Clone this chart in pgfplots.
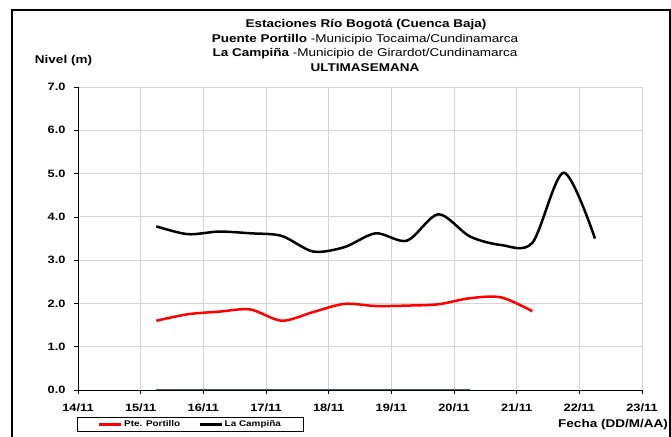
\documentclass[border=0pt]{standalone}
\usepackage{fontspec}
\setmainfont{Liberation Sans}[FakeStretch=1.2]
\usepackage{pgfplots}
\usepackage{pgfplotstable}
\pgfplotsset{compat=1.18}
\definecolor{tealz}{RGB}{50,100,100}
\definecolor{gridc}{RGB}{212,212,212}
\pgfplotstableread{
x y
15.25 3.78
15.75 3.60
16.25 3.66
16.75 3.62
17.25 3.56
17.75 3.20
18.25 3.30
18.75 3.62
19.25 3.45
19.75 4.06
20.25 3.55
20.75 3.35
21.25 3.40
21.75 5.02
22.25 3.50
}\campina
\pgfplotstableread{
x y
15.25 1.60
15.75 1.75
16.25 1.81
16.75 1.86
17.25 1.60
17.75 1.80
18.25 1.99
18.75 1.94
19.25 1.95
19.75 1.98
20.25 2.12
20.75 2.14
21.25 1.82
}\portillo
\pgfplotstableread{
x y
15.25 0
15.75 0
16.25 0
16.75 0
17.25 0
17.75 0
18.25 0
18.75 0
19.25 0
19.75 0
20.25 0
}\zero
\begin{document}
\begin{tikzpicture}
\useasboundingbox (0bp,0bp) rectangle (671bp,437bp);
\clip (0bp,0bp) rectangle (671bp,437bp);
\fill[white] (0bp,0bp) rectangle (671bp,437bp);
\begin{axis}[
  at={(78bp,47bp)}, anchor=south west,
  scale only axis, width=564bp, height=303bp,
  xmin=14, xmax=23, ymin=0, ymax=7,
  xtick={14,...,23},
  xticklabels={14/11,15/11,16/11,17/11,18/11,19/11,20/11,21/11,22/11,23/11},
  ytick={0,...,7},
  axis x line*=bottom, axis y line*=left,
  axis line style={black, line width=0.8bp, -},
  grid=major, grid style={gridc, line width=0.9bp},
  tick align=outside, major tick length=4bp,
  tick style={black, line width=0.6bp},
  /pgf/number format/assume math mode=true,
  yticklabel style={xshift=-5bp, /pgf/number format/fixed, /pgf/number format/fixed zerofill, /pgf/number format/precision=1},
  ticklabel style={font=\bfseries\fontsize{10.7}{12}\selectfont},
  xticklabel style={yshift=-6bp},
  legend columns=2,
  legend style={at={(axis description cs:-0.002,-0.089)}, anchor=north west,
    draw=black, line width=0.6bp,
    font=\bfseries\fontsize{8.3}{9}\selectfont,
    inner xsep=21bp, inner ysep=2bp,
    nodes={inner xsep=1.5bp, inner ysep=1.5bp},
    /tikz/every even column/.append style={column sep=17bp}},
  legend image code/.code={\draw[#1, line width=2.5bp] (0bp,0bp) -- (22bp,0bp);},
]
\addplot[tealz, line width=2bp, forget plot] table {\zero};
\addplot[red, line width=2.5bp, smooth] table {\portillo};
\addlegendentry{Pte. Portillo}
\addplot[black, line width=2.5bp, smooth] table {\campina};
\addlegendentry{La Campiña}
\end{axis}
\draw[black, line width=2.2bp] (12bp,-10bp) rectangle (669.8bp,427bp);
\begin{scope}[every node/.style={anchor=base, inner sep=0pt}]
\node[font=\bfseries\fontsize{11.3}{13}\selectfont] at (366bp,409.3bp) {Estaciones Río Bogotá (Cuenca Baja)};
\node[font=\fontsize{11.3}{13}\selectfont] at (365bp,394.8bp) {\textbf{Puente Portillo} -Municipio Tocaima/Cundinamarca};
\node[font=\fontsize{11.3}{13}\selectfont] at (365bp,380.1bp) {\textbf{La Campiña} -Municipio de Girardot/Cundinamarca};
\node[font=\bfseries\fontsize{11.3}{13}\selectfont] at (365bp,365.5bp) {ULTIMASEMANA};
\node[font=\bfseries\fontsize{11.3}{13}\selectfont] at (63.5bp,373bp) {Nivel (m)};
\node[font=\bfseries\fontsize{11.3}{13}\selectfont, anchor=base east] at (668bp,10bp) {Fecha (DD/M/AA)};
\end{scope}
\end{tikzpicture}
\end{document}
